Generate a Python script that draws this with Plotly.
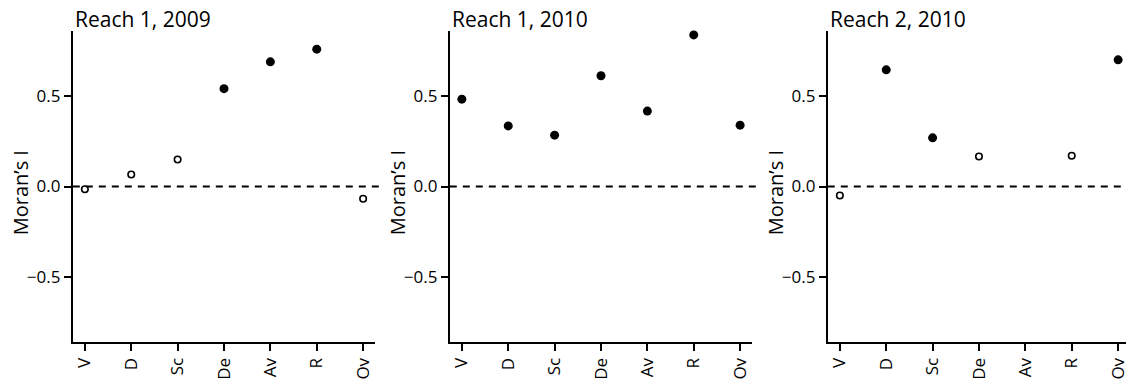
import plotly.graph_objects as go

categories = ["V", "D", "Sc", "De", "Av", "R", "Ov"]
titles = ["Reach 1, 2009", "Reach 1, 2010", "Reach 2, 2010"]

morans_r1_2009 = [-0.015, 0.066, 0.149, 0.541, 0.689, 0.759, -0.068]
morans_r1_2010 = [0.483, 0.335, 0.284, 0.612, 0.417, 0.838, 0.339]
morans_r2_2010 = [-0.050, 0.645, 0.269, 0.166, None, 0.170, 0.700]

signif_r1_2009 = [False, False, False, True, True, True, False]
signif_r1_2010 = [True, True, True, True, True, True, True]
signif_r2_2010 = [False, True, True, False, None, False, True]

y_ticks = [-0.5, 0.0, 0.5]
y_ticklabels = ["\u22120.5", "0.0", "0.5"]

series = [
    (morans_r1_2009, signif_r1_2009),
    (morans_r1_2010, signif_r1_2010),
    (morans_r2_2010, signif_r2_2010),
]

W, H = 1129, 380
FONT = "Open Sans"
spacing = 46.5
pad = 0.26
axis_px = [73, 451, 830]
y_top, y_bot = 31, 343

fig = go.Figure()

for i, ((vals, sig), title) in enumerate(zip(series, titles)):
    n = i + 1
    xa = "x" if n == 1 else f"x{n}"
    ya = "y" if n == 1 else f"y{n}"
    filled_x = [c for c, v, s in zip(categories, vals, sig) if v is not None and s]
    filled_y = [v for v, s in zip(vals, sig) if v is not None and s]
    open_x = [c for c, v, s in zip(categories, vals, sig) if v is not None and not s]
    open_y = [v for v, s in zip(vals, sig) if v is not None and not s]
    fig.add_trace(go.Scatter(x=filled_x, y=filled_y, mode="markers", xaxis=xa, yaxis=ya,
                             marker=dict(symbol="circle", size=9, color="black"),
                             showlegend=False, cliponaxis=False))
    fig.add_trace(go.Scatter(x=open_x, y=open_y, mode="markers", xaxis=xa, yaxis=ya,
                             marker=dict(symbol="circle-open", size=6.5, color="black",
                                         line=dict(width=1.6, color="black")),
                             showlegend=False, cliponaxis=False))

    left = axis_px[i]
    right = min(left + spacing * (len(categories) - 1 + 2 * pad), W)
    xmax = -pad + (right - left) / spacing
    xkey = "xaxis" if n == 1 else f"xaxis{n}"
    ykey = "yaxis" if n == 1 else f"yaxis{n}"
    fig.update_layout(**{
        xkey: dict(domain=[left / W, right / W], anchor=ya, type="category",
                   categoryorder="array", categoryarray=categories,
                   range=[-pad, xmax], showline=True, linecolor="black", linewidth=2,
                   ticks="outside", ticklen=7, tickwidth=2, tickcolor="black",
                   tickangle=-90, tickfont=dict(family=FONT, size=17, color="black"),
                   showgrid=False, zeroline=False, fixedrange=True),
        ykey: dict(domain=[(H - y_bot) / H, (H - y_top) / H], anchor=xa,
                   range=[-0.86, 0.86], tickvals=y_ticks, ticktext=y_ticklabels,
                   showline=True, linecolor="black", linewidth=2,
                   ticks="outside", ticklen=7, tickwidth=2, tickcolor="black",
                   tickfont=dict(family=FONT, size=17, color="black"),
                   showgrid=False, zeroline=False, fixedrange=True),
    })
    # zero reference line
    ext = (min(left + 307, W) - left) / (right - left)
    fig.add_shape(type="line", xref=f"{xa} domain", yref=ya, x0=0, x1=ext, y0=0, y1=0,
                  line=dict(color="black", width=2, dash="7px,6px"))
    # panel title
    fig.add_annotation(text=title, xref=f"{xa} domain", yref="paper", x=0, y=1 - 19 / H,
                       xanchor="left", yanchor="middle", showarrow=False,
                       font=dict(family=FONT, size=21, color="black"))
    # y-axis title
    fig.add_annotation(text="Moran\u2019s I", xref=f"{xa} domain", yref=f"{ya} domain",
                       x=0, y=0.5, xshift=-52, yshift=-6, textangle=-90,
                       xanchor="center", yanchor="middle", showarrow=False,
                       font=dict(family=FONT, size=20, color="black"))

fig.update_layout(width=W, height=H, margin=dict(l=0, r=0, t=0, b=0),
                  paper_bgcolor="white", plot_bgcolor="white")

fig.write_html("out.html")
